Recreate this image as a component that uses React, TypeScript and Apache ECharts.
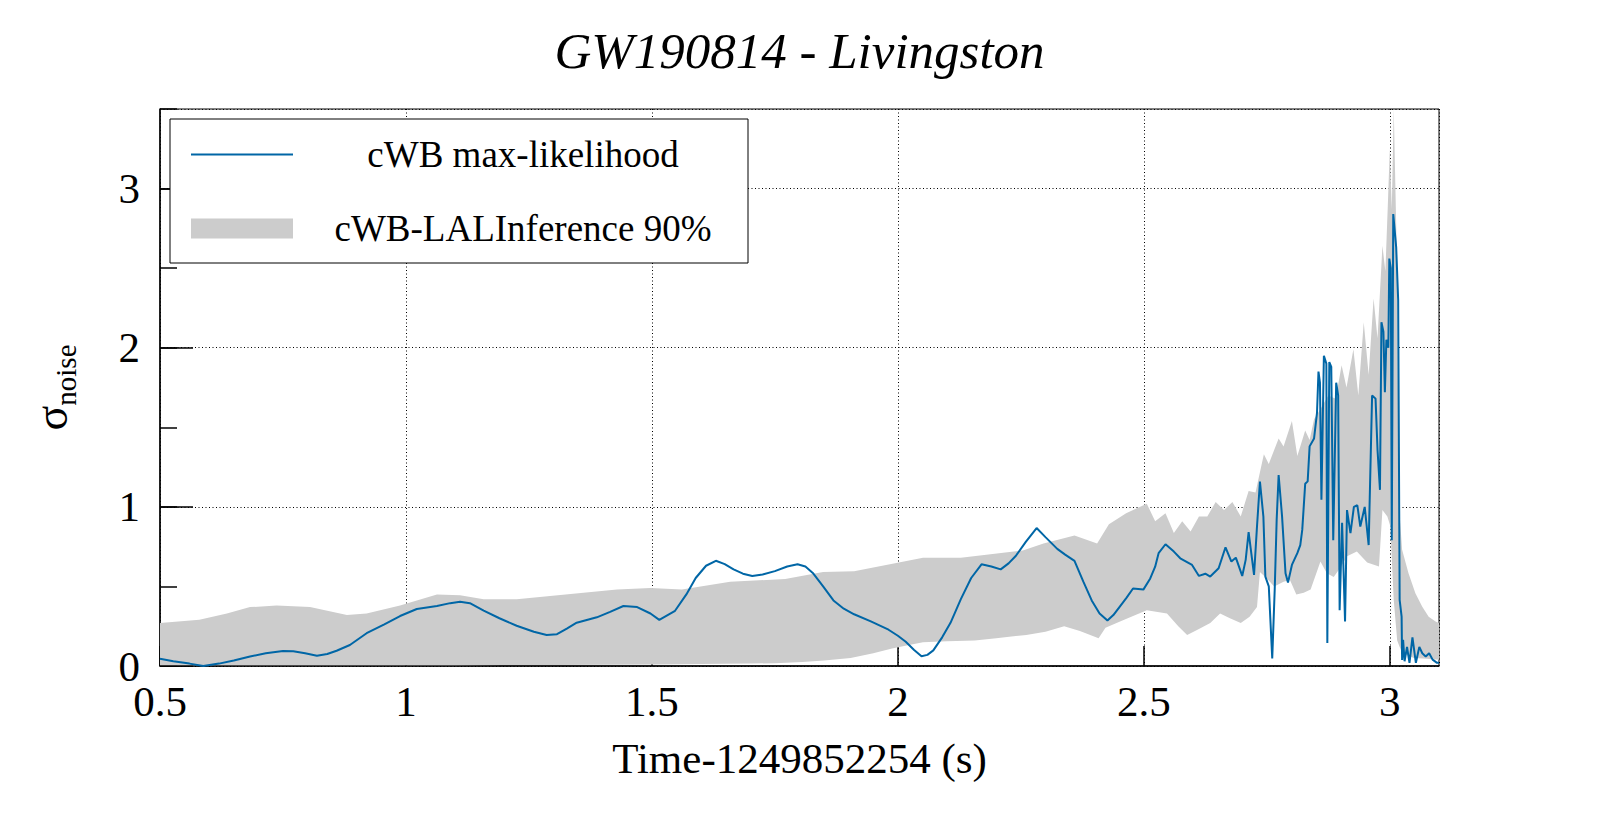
import React, { useEffect, useRef } from 'react';
import * as echarts from 'echarts';

const FONT = "'Liberation Serif', 'Times New Roman', 'DejaVu Serif', serif";

const titleText = 'GW190814 - Livingston';
const xName = 'Time-1249852254 (s)';
const lineName = 'cWB max-likelihood';
const bandName = 'cWB-LALInference 90%';

// cWB max-likelihood whitened waveform: [time, sigma]
const maxLikelihood: [number, number][] = [
  [0.5, 0.045], [0.527, 0.03], [0.56, 0.015], [0.588, 0.0], [0.62, 0.015], [0.65, 0.035],
  [0.683, 0.06], [0.715, 0.08], [0.75, 0.094], [0.771, 0.092], [0.795, 0.08], [0.819, 0.065],
  [0.84, 0.075], [0.859, 0.096], [0.886, 0.132], [0.92, 0.206], [0.955, 0.26], [0.988, 0.314],
  [1.022, 0.358], [1.063, 0.377], [1.09, 0.395], [1.11, 0.404], [1.13, 0.395], [1.158, 0.348],
  [1.19, 0.3], [1.225, 0.253], [1.26, 0.215], [1.286, 0.195], [1.307, 0.2], [1.327, 0.235],
  [1.347, 0.272], [1.388, 0.306], [1.415, 0.34], [1.442, 0.377], [1.47, 0.37], [1.497, 0.33],
  [1.515, 0.29], [1.547, 0.347], [1.57, 0.45], [1.589, 0.553], [1.61, 0.63], [1.63, 0.661],
  [1.648, 0.64], [1.666, 0.607], [1.685, 0.58], [1.704, 0.565], [1.725, 0.575], [1.75, 0.596],
  [1.775, 0.625], [1.796, 0.639], [1.812, 0.625], [1.827, 0.585], [1.848, 0.5], [1.869, 0.412],
  [1.89, 0.36], [1.911, 0.325], [1.945, 0.28], [1.981, 0.228], [2.0, 0.19], [2.016, 0.152],
  [2.033, 0.1], [2.048, 0.061], [2.06, 0.07], [2.072, 0.098], [2.09, 0.18], [2.107, 0.271],
  [2.128, 0.42], [2.149, 0.553], [2.17, 0.639], [2.19, 0.625], [2.209, 0.607], [2.225, 0.645],
  [2.24, 0.693], [2.26, 0.78], [2.282, 0.867], [2.3, 0.81], [2.324, 0.736], [2.34, 0.7],
  [2.359, 0.661], [2.377, 0.53], [2.394, 0.412], [2.41, 0.33], [2.426, 0.286], [2.438, 0.32],
  [2.45, 0.369], [2.465, 0.43], [2.478, 0.487], [2.499, 0.48], [2.513, 0.55], [2.523, 0.624],
  [2.53, 0.709], [2.544, 0.765], [2.561, 0.719], [2.574, 0.677], [2.598, 0.635], [2.612, 0.566],
  [2.625, 0.58], [2.635, 0.562], [2.652, 0.614], [2.666, 0.746], [2.678, 0.656], [2.687, 0.681],
  [2.7, 0.566], [2.707, 0.667], [2.713, 0.841], [2.724, 0.572], [2.73, 0.876], [2.736, 1.159],
  [2.743, 0.939], [2.747, 0.562], [2.754, 0.5], [2.761, 0.048], [2.766, 0.478], [2.77, 0.918],
  [2.774, 1.2], [2.781, 0.939], [2.788, 0.583], [2.793, 0.524], [2.801, 0.635], [2.812, 0.709],
  [2.818, 0.76], [2.822, 0.855], [2.828, 1.145], [2.833, 1.16], [2.837, 1.38], [2.846, 1.43],
  [2.852, 1.59], [2.855, 1.85], [2.858, 1.78], [2.861, 1.044], [2.866, 1.95], [2.871, 1.9],
  [2.873, 0.145], [2.877, 1.91], [2.881, 1.88], [2.885, 0.79], [2.891, 1.78], [2.895, 1.7],
  [2.898, 0.35], [2.903, 0.9], [2.909, 0.28], [2.913, 0.98], [2.92, 0.835], [2.927, 1.0],
  [2.934, 1.01], [2.94, 0.876], [2.949, 1.0], [2.957, 0.76], [2.964, 1.7], [2.971, 1.68],
  [2.975, 1.36], [2.98, 1.107], [2.983, 2.16], [2.987, 2.1], [2.99, 1.72], [2.993, 2.05],
  [2.997, 2.0], [2.999, 2.56], [3.002, 2.5], [3.004, 0.79], [3.007, 2.84], [3.011, 2.7],
  [3.013, 2.63], [3.017, 2.3], [3.02, 0.415], [3.024, 0.31], [3.025, 0.038], [3.027, 0.164],
  [3.03, 0.03], [3.035, 0.12], [3.04, 0.02], [3.046, 0.18], [3.053, 0.02], [3.06, 0.12],
  [3.066, 0.08], [3.073, 0.06], [3.08, 0.08], [3.087, 0.04], [3.096, 0.02], [3.1, 0.02],
];

// 90% credible band, upper edge: [time, sigma]
const bandUpper: [number, number][] = [
  [0.5, 0.27], [0.58, 0.29], [0.636, 0.33], [0.683, 0.37], [0.737, 0.38], [0.805, 0.37],
  [0.88, 0.32], [0.92, 0.33], [0.988, 0.38], [1.063, 0.45], [1.11, 0.445], [1.158, 0.42],
  [1.225, 0.42], [1.293, 0.44], [1.361, 0.46], [1.429, 0.48], [1.497, 0.49], [1.561, 0.48],
  [1.659, 0.53], [1.771, 0.546], [1.848, 0.59], [1.911, 0.596], [2.002, 0.65], [2.051, 0.68],
  [2.128, 0.68], [2.184, 0.7], [2.254, 0.726], [2.296, 0.77], [2.359, 0.82], [2.405, 0.77],
  [2.429, 0.89], [2.464, 0.96], [2.506, 1.02], [2.523, 0.91], [2.544, 0.96], [2.561, 0.835],
  [2.578, 0.91], [2.595, 0.845], [2.612, 0.94], [2.629, 0.94], [2.646, 1.03], [2.663, 0.98],
  [2.68, 1.03], [2.697, 0.94], [2.713, 1.1], [2.727, 1.09], [2.744, 1.33], [2.754, 1.27],
  [2.774, 1.43], [2.784, 1.38], [2.801, 1.54], [2.812, 1.32], [2.828, 1.48], [2.837, 1.42],
  [2.846, 1.55], [2.86, 1.62], [2.875, 1.7], [2.89, 1.68], [2.902, 1.89], [2.912, 1.75],
  [2.926, 1.99], [2.936, 1.7], [2.947, 2.16], [2.957, 1.83], [2.967, 2.31], [2.975, 2.06],
  [2.985, 2.64], [2.991, 2.48], [2.996, 2.9], [3.0, 3.25], [3.004, 2.87], [3.008, 3.5],
  [3.014, 2.62], [3.017, 1.6], [3.02, 0.95], [3.025, 0.73], [3.038, 0.583], [3.052, 0.457],
  [3.066, 0.373], [3.079, 0.31], [3.093, 0.28], [3.1, 0.27],
];

// 90% credible band, lower edge: [time, sigma]
const bandLower: [number, number][] = [
  [0.5, 0.005], [0.6, 0.005], [0.7, 0.004], [0.8, 0.004], [0.9, 0.004], [1.0, 0.005],
  [1.1, 0.005], [1.2, 0.006], [1.3, 0.006], [1.4, 0.008], [1.5, 0.01], [1.6, 0.012],
  [1.7, 0.015], [1.75, 0.018], [1.806, 0.025], [1.85, 0.035], [1.904, 0.05], [1.95, 0.08],
  [1.988, 0.11], [2.02, 0.13], [2.051, 0.15], [2.1, 0.155], [2.156, 0.16], [2.2, 0.175],
  [2.261, 0.195], [2.3, 0.215], [2.338, 0.25], [2.37, 0.22], [2.408, 0.174], [2.422, 0.24],
  [2.46, 0.29], [2.506, 0.35], [2.547, 0.33], [2.57, 0.25], [2.588, 0.195], [2.61, 0.23],
  [2.635, 0.27], [2.655, 0.33], [2.675, 0.3], [2.697, 0.27], [2.715, 0.31], [2.73, 0.37],
  [2.736, 0.59], [2.75, 0.55], [2.765, 0.5], [2.784, 0.53], [2.797, 0.54], [2.81, 0.45],
  [2.825, 0.46], [2.839, 0.48], [2.859, 0.656], [2.872, 0.583], [2.886, 0.56], [2.9, 0.62],
  [2.913, 0.69], [2.933, 0.72], [2.954, 0.65], [2.978, 0.625], [2.985, 0.98], [2.995, 0.94],
  [3.001, 0.88], [3.008, 0.415], [3.015, 0.16], [3.025, 0.08], [3.049, 0.05], [3.075, 0.045],
  [3.1, 0.04],
];

const BLUE = '#0066a6';
const GRAY = '#cccccc';

export default function App() {
  const ref = useRef<HTMLDivElement>(null);

  useEffect(() => {
    if (!ref.current) return;
    const chart = echarts.init(ref.current, null, { renderer: 'svg' });
    const dotted = { type: [1, 2.5] as any, color: '#000', width: 1 };
    const option: any = {
      animation: false,
      backgroundColor: '#fff',
      title: {
        text: titleText,
        left: 'center',
        top: 25,
        padding: 0,
        textStyle: { fontFamily: FONT, fontStyle: 'italic', fontWeight: 'normal', fontSize: 51, color: '#000' },
      },
      legend: {
        orient: 'vertical',
        left: 170,
        top: 119,
        padding: [17, 0, 16, 21],
        backgroundColor: '#fff',
        borderColor: '#000',
        borderWidth: 1,
        itemWidth: 102,
        itemHeight: 20,
        itemGap: 37,
        symbolKeepAspect: true,
        selectedMode: false,
        formatter: (name: string) => `{t|${name}}`,
        textStyle: {
          fontFamily: FONT,
          fontSize: 37,
          color: '#000',
          rich: {
            t: { width: 450, align: 'center', fontSize: 37, lineHeight: 40, fontFamily: FONT, color: '#000' },
          },
        },
        data: [
          { name: lineName, icon: 'path://M0,0L100,0L100,2L0,2Z', itemStyle: { color: BLUE, borderWidth: 0 } },
          { name: bandName, icon: 'rect', itemStyle: { color: GRAY, borderWidth: 0 } },
        ],
      },
      grid: {
        left: 160, right: 160, top: 109, bottom: 147,
        show: true, borderColor: '#000', borderWidth: 1, backgroundColor: 'transparent',
      },
      xAxis: {
        type: 'value', min: 0.5, max: 3.1, interval: 0.5,
        name: xName, nameLocation: 'middle', nameGap: 71,
        nameTextStyle: { fontFamily: FONT, fontSize: 43, color: '#000' },
        axisLine: { show: true, lineStyle: { color: '#000', width: 1.5 } },
        axisTick: { show: true, inside: true, length: 20, lineStyle: { color: '#000', width: 1.5 } },
        axisLabel: { fontFamily: FONT, fontSize: 43, color: '#000', margin: 14, showMaxLabel: false },
        splitLine: { show: true, lineStyle: dotted },
      },
      yAxis: [
        {
          type: 'value', min: 0, max: 3.5, interval: 1,
          name: '{s|σ}{n|noise}', nameLocation: 'middle', nameGap: 80,
          nameTextStyle: {
            rich: {
              s: { fontFamily: FONT, fontSize: 46, lineHeight: 58, verticalAlign: 'middle', color: '#000' },
              n: { fontFamily: FONT, fontSize: 29, lineHeight: 30, verticalAlign: 'bottom', color: '#000' },
            },
          },
          axisLine: { show: true, lineStyle: { color: '#000', width: 1.5 } },
          axisTick: { show: true, inside: true, length: 33, lineStyle: { color: '#000', width: 1.5 } },
          axisLabel: { fontFamily: FONT, fontSize: 43, color: '#000', margin: 20, showMaxLabel: false },
          splitLine: { show: true, lineStyle: dotted },
        },
        {
          type: 'value', min: 0, max: 3.5, interval: 0.5, position: 'left',
          axisLine: { show: false },
          axisTick: { show: true, inside: true, length: 17, lineStyle: { color: '#000', width: 1.5 } },
          axisLabel: { show: false },
          splitLine: { show: false },
        },
      ],
      series: [
        {
          name: bandName,
          type: 'custom',
          coordinateSystem: 'cartesian2d',
          clip: true,
          silent: true,
          itemStyle: { color: GRAY },
          data: [[0.5, 0]],
          renderItem: (_params: any, api: any) => {
            const pts: number[][] = [];
            for (const p of bandUpper) pts.push(api.coord(p));
            for (let i = bandLower.length - 1; i >= 0; i--) pts.push(api.coord(bandLower[i]));
            return { type: 'polygon', shape: { points: pts }, style: { fill: GRAY, stroke: null } };
          },
        },
        {
          name: lineName,
          type: 'line',
          data: maxLikelihood,
          symbol: 'none',
          showSymbol: false,
          silent: true,
          lineStyle: { color: BLUE, width: 2 },
          itemStyle: { color: BLUE },
        },
      ],
    };
    chart.setOption(option);
    return () => chart.dispose();
  }, []);

  return (
    <div
      ref={ref}
      style={{ position: 'absolute', left: 0, top: 0, width: 1599, height: 813, background: '#fff' }}
    />
  );
}
